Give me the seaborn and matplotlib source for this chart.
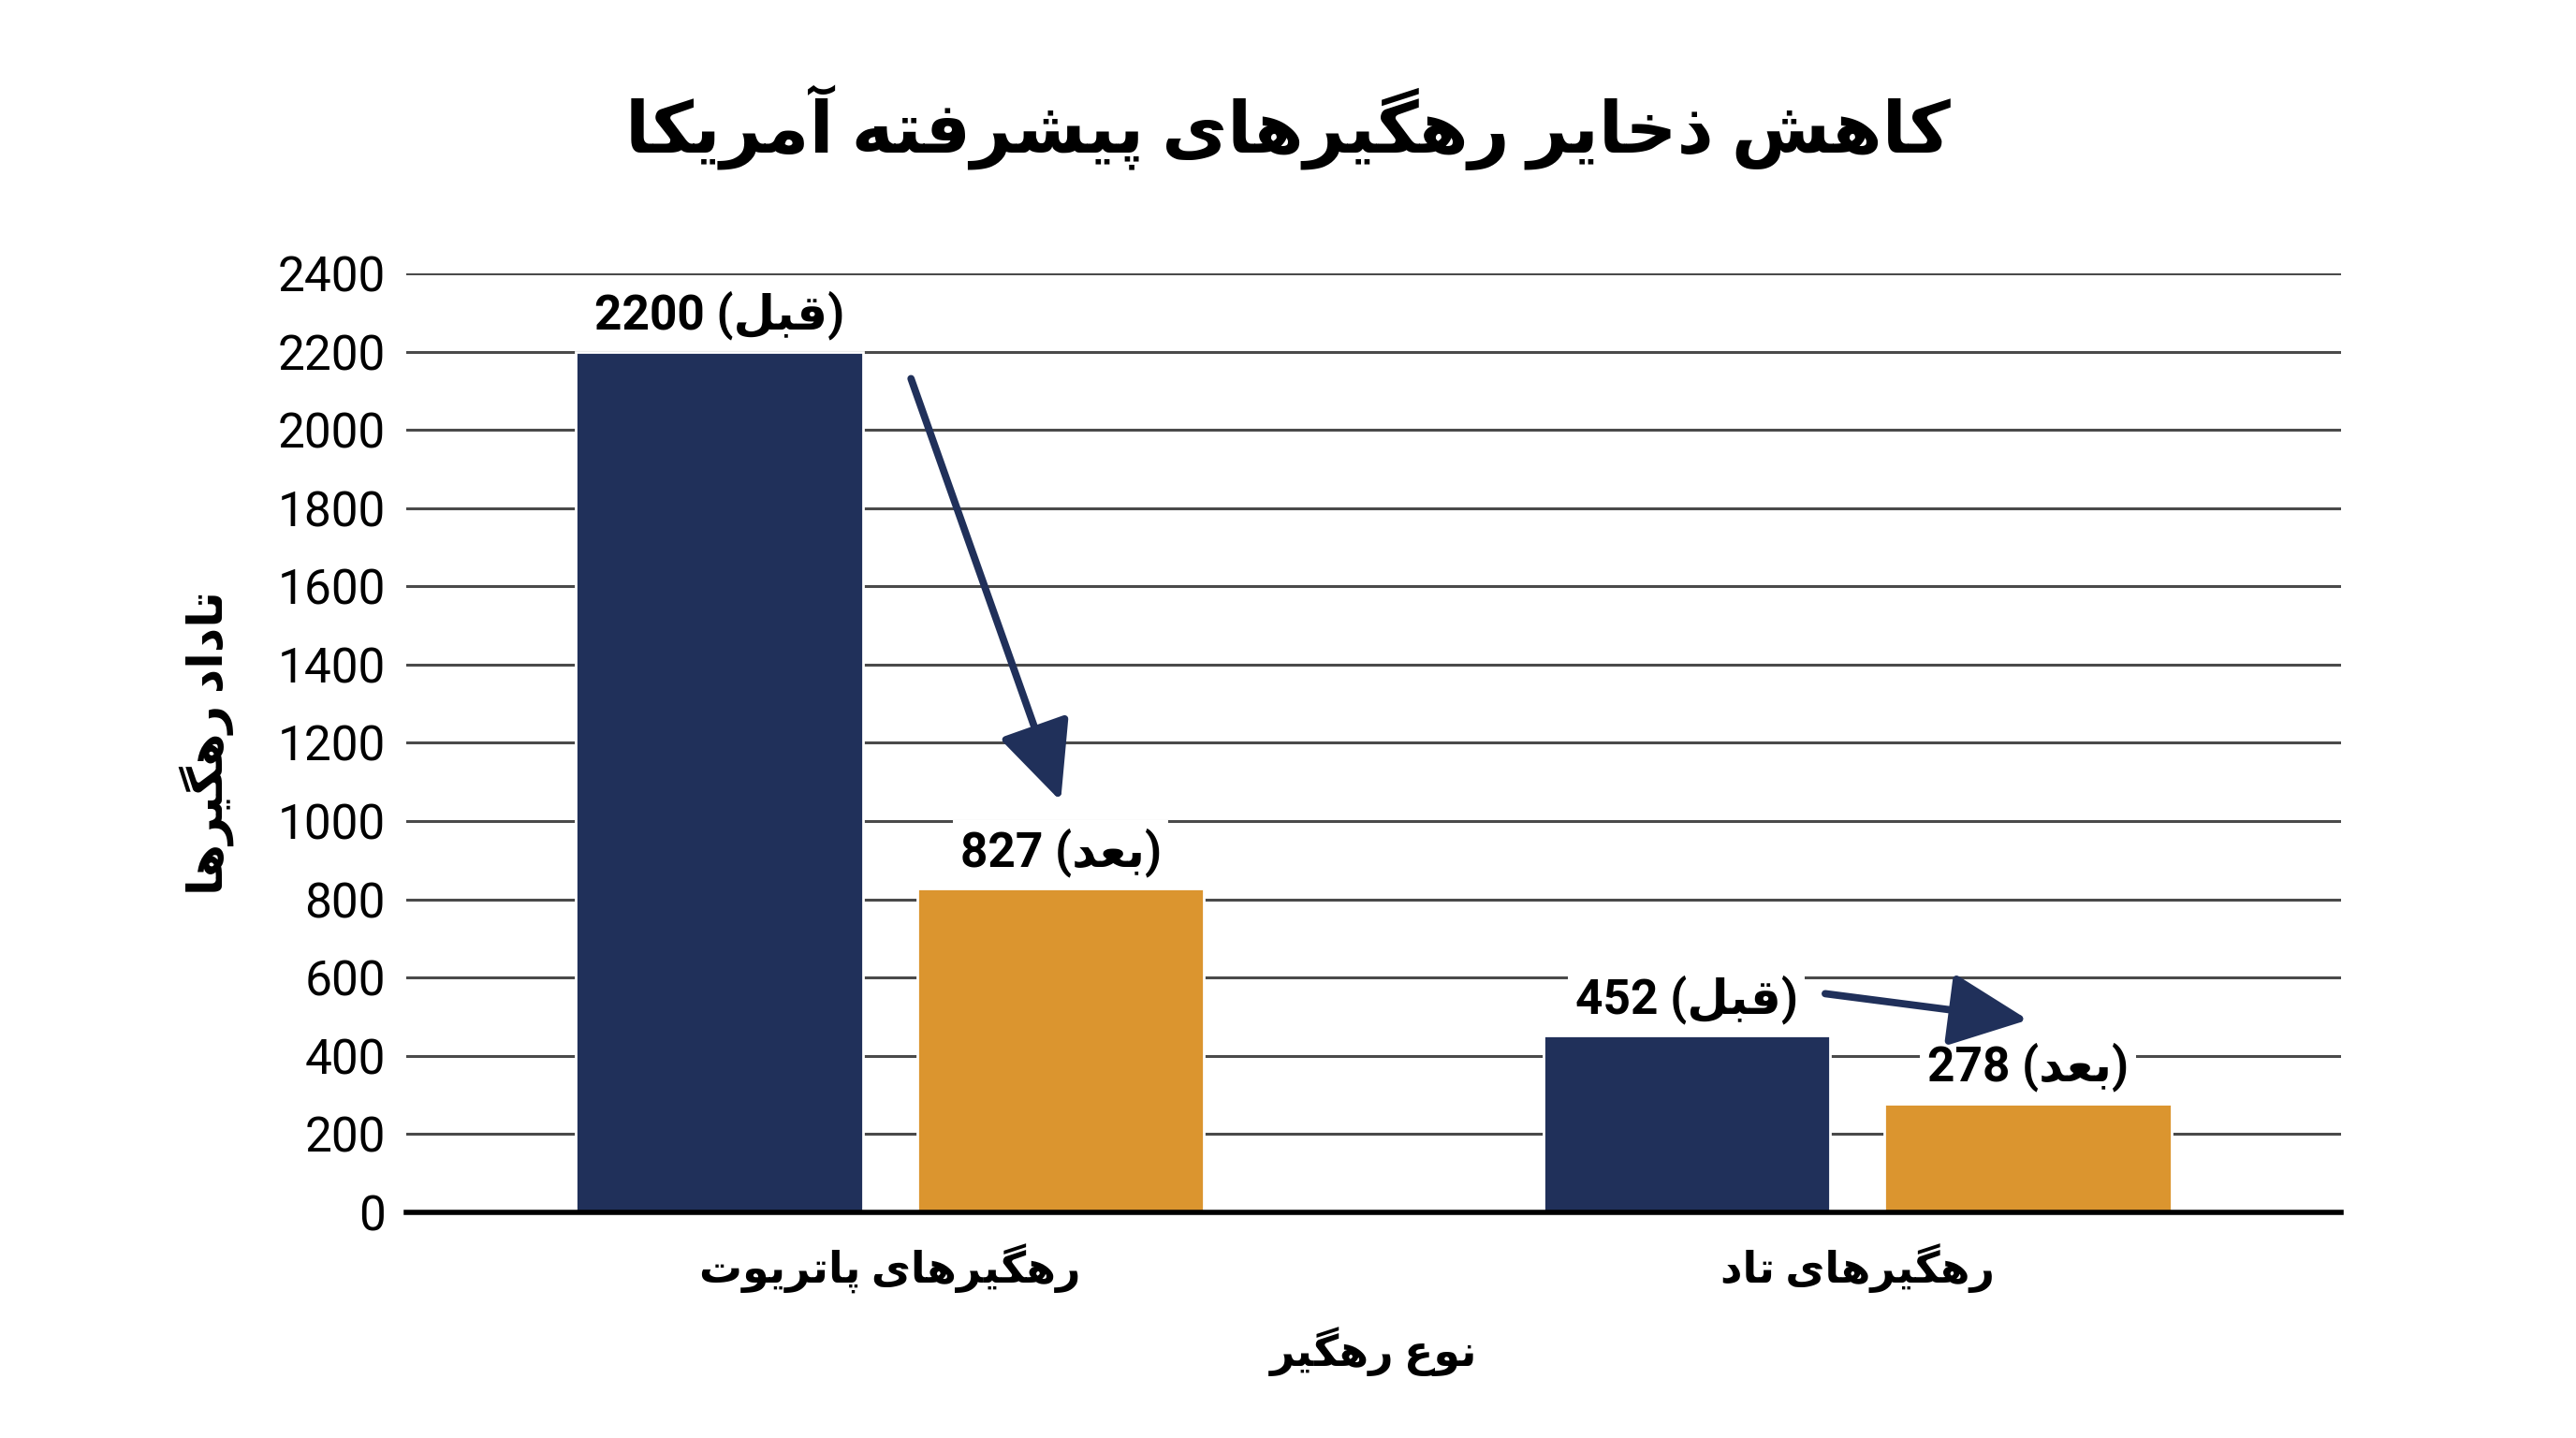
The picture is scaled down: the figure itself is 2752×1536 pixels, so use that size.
import matplotlib
matplotlib.use("Agg")
import matplotlib.pyplot as plt
import seaborn as sns
import pandas as pd

# ------------------------
# Données
# ------------------------
categories = ["رهگیرهای پاتریوت", "رهگیرهای تاد"]
stages = ["قبل", "بعد"]
before = [2200, 452]
after = [827, 278]

title = "کاهش ذخایر رهگیرهای پیشرفته آمریکا"
xlabel = "نوع رهگیر"
ylabel = "تاداد رهگیرها"

navy = "#20305A"
orange = "#DB952F"

# ------------------------
# Mise en forme du persan (matplotlib ne fait ni shaping ni bidi)
# ------------------------
# lettre: (isolée, finale, initiale, médiane) ; 2 formes = ne se lie pas à gauche
FORMS = {
    "ا": (0xFE8D, 0xFE8E), "آ": (0xFE81, 0xFE82),
    "د": (0xFEA9, 0xFEAA), "ذ": (0xFEAB, 0xFEAC),
    "ر": (0xFEAD, 0xFEAE), "و": (0xFEED, 0xFEEE),
    "ب": (0xFE8F, 0xFE90, 0xFE91, 0xFE92), "پ": (0xFB56, 0xFB57, 0xFB58, 0xFB59),
    "ت": (0xFE95, 0xFE96, 0xFE97, 0xFE98), "خ": (0xFEA5, 0xFEA6, 0xFEA7, 0xFEA8),
    "ش": (0xFEB5, 0xFEB6, 0xFEB7, 0xFEB8), "ع": (0xFEC9, 0xFECA, 0xFECB, 0xFECC),
    "ف": (0xFED1, 0xFED2, 0xFED3, 0xFED4), "ق": (0xFED5, 0xFED6, 0xFED7, 0xFED8),
    "ک": (0xFB8E, 0xFB8F, 0xFB90, 0xFB91), "گ": (0xFB92, 0xFB93, 0xFB94, 0xFB95),
    "ل": (0xFEDD, 0xFEDE, 0xFEDF, 0xFEE0), "م": (0xFEE1, 0xFEE2, 0xFEE3, 0xFEE4),
    "ن": (0xFEE5, 0xFEE6, 0xFEE7, 0xFEE8), "ه": (0xFEE9, 0xFEEA, 0xFEEB, 0xFEEC),
    "ی": (0xFBFC, 0xFBFD, 0xFBFE, 0xFBFF),
}


def fa(s):
    out = []
    for i, c in enumerate(s):
        if c not in FORMS:
            out.append(c)
            continue
        f = FORMS[c]
        prev = s[i - 1] if i > 0 else ""
        nxt = s[i + 1] if i + 1 < len(s) else ""
        jp = prev in FORMS and len(FORMS[prev]) == 4
        jn = len(f) == 4 and nxt in FORMS
        if jp and jn:
            k = 3
        elif jp:
            k = 1
        elif jn:
            k = 2
        else:
            k = 0
        out.append(chr(f[k]))
    return "".join(out[::-1])


df = pd.DataFrame({
    "cat": [fa(c) for c in categories] * 2,
    "stage": [stages[0]] * len(before) + [stages[1]] * len(after),
    "value": before + after,
})

# ------------------------
# Graphique
# ------------------------
sns.set_style("white")
plt.rcParams["font.family"] = ["Roboto", "DejaVu Sans"]
plt.rcParams["text.color"] = "black"
plt.rcParams["axes.labelcolor"] = "black"
plt.rcParams["xtick.color"] = "black"
plt.rcParams["ytick.color"] = "black"

fig = plt.figure(figsize=(13.76, 7.68), dpi=200)
ax = fig.add_axes([0.1577, 0.1569, 0.7511, 0.653])

sns.barplot(data=df, x="cat", y="value", hue="stage", palette=[navy, orange],
            saturation=1, width=0.706, gap=0.16, legend=False, ax=ax, zorder=3)

ax.set_ylim(0, 2400)
ax.set_xlim(-0.5, 1.5)
ax.set_yticks(range(0, 2401, 200))
ax.grid(axis="y", color="#4a4a4a", lw=1.1, zorder=0)
ax.set_axisbelow(True)
for s in ["top", "right", "left"]:
    ax.spines[s].set_visible(False)
ax.spines["bottom"].set_color("black")
ax.spines["bottom"].set_linewidth(2)
ax.spines["bottom"].set_zorder(4)
ax.tick_params(axis="both", length=0)
ax.tick_params(axis="y", labelsize=18.5, pad=8)
ax.tick_params(axis="x", pad=12)
for lab in ax.get_xticklabels():
    lab.set_fontsize(16.5)
    lab.set_fontweight("bold")

ax.set_xlabel(fa(xlabel), fontsize=16.5, fontweight="bold")
ax.xaxis.set_label_coords(0.5, -0.148)
ax.xaxis.label.set_va("center")
ax.set_ylabel(fa(ylabel), fontsize=18.5, fontweight="bold")
ax.yaxis.set_label_coords(-0.103, 0.5)
ax.yaxis.label.set_va("center")

fig.text(0.5, 0.911, fa(title), ha="center", va="center", fontsize=27.5, fontweight="bold")

# étiquettes des barres
for cont, stage in zip(ax.containers, stages):
    for bar in cont:
        h = bar.get_height()
        ax.annotate(f"{int(h)} ({fa(stage)})", (bar.get_x() + bar.get_width() / 2, h),
                    xytext=(0, 14), textcoords="offset points", ha="center", va="center",
                    fontsize=18.5, fontweight="bold", zorder=5,
                    bbox=dict(boxstyle="square,pad=0.15", fc="white", ec="none"))

# flèches avant -> après
b0, b1 = ax.containers[0], ax.containers[1]
arrow = dict(arrowstyle="-|>,head_length=0.65,head_width=0.3", color=navy, lw=2.8,
             mutation_scale=40, shrinkA=0, shrinkB=0)
p0, a0 = b0[0], b1[0]
ax.annotate("", xy=(a0.get_x() + a0.get_width() / 2, after[0] + 224),
            xytext=(p0.get_x() + p0.get_width() + 0.05, before[0] - 69),
            arrowprops=arrow, zorder=6)
p1, a1 = b0[1], b1[1]
ax.annotate("", xy=(a1.get_x() + a1.get_width() / 2, after[1] + 214),
            xytext=(p1.get_x() + p1.get_width() - 0.005, before[1] + 107),
            arrowprops=arrow, zorder=6)

fig.savefig("out.png", dpi=200, facecolor="white")
